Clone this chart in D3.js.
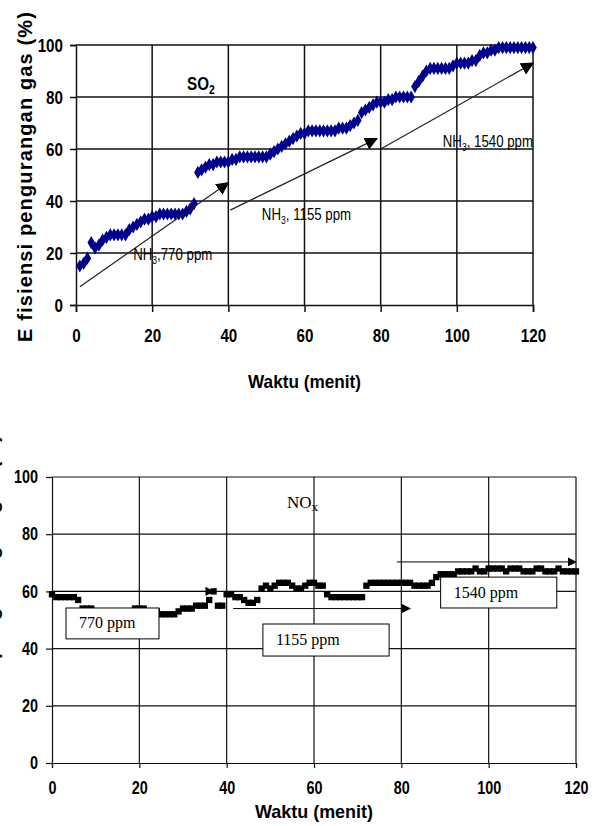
<!DOCTYPE html>
<html>
<head>
<meta charset="utf-8">
<script src="https://cdn.jsdelivr.net/npm/d3@7"></script>
<style>
  body { margin: 0; background: #fff; }
  svg { display: block; }
</style>
</head>
<body>
<div id="chart"></div>
<script>
const xTicks = [0, 20, 40, 60, 80, 100, 120];
const yTicks = [0, 20, 40, 60, 80, 100];

// SO2 reduction efficiency (%), one reading per minute, minute 1 .. 120
const so2Start = 1;
const so2Values = [
  15, 16, 18, 24, 22, 23, 25, 26, 27, 27,
  27, 27, 27, 29, 30, 31, 32, 33, 33, 34,
  34, 35, 35, 35, 35, 35, 35, 35, 36, 37,
  39, 51, 52, 53, 54, 54, 55, 55, 55, 55,
  56, 56, 57, 57, 57, 57, 57, 57, 57, 57,
  58, 59, 60, 61, 62, 63, 64, 65, 66, 66,
  67, 67, 67, 67, 67, 67, 67, 67, 68, 68,
  68, 69, 70, 71, 74, 75, 76, 77, 78, 78,
  78, 79, 79, 80, 80, 80, 80, 80, 84, 86,
  88, 90, 91, 91, 91, 91, 91, 91, 92, 93,
  93, 93, 93, 94, 94, 96, 97, 97, 98, 98,
  99, 99, 99, 99, 99, 99, 99, 99, 99, 99
];

// NOx reduction efficiency (%), one reading per minute, minute 0 .. 120
const noxStart = 0;
const noxValues = [
  59, 58, 58, 58, 58, 58, 57, 54, 54, 54,
  53, 53, 53, 53, 53, 53, 53, 53, 53, 54,
  54, 54, 53, 53, 53, 52, 52, 52, 52, 53,
  54, 54, 54, 55, 55, 55, 57, 60, 55, 55,
  59, 59, 58, 58, 57, 56, 56, 57, 61, 62,
  61, 62, 63, 63, 63, 62, 61, 61, 62, 63,
  63, 62, 62, 59, 58, 58, 58, 58, 58, 58,
  58, 58, 62, 63, 63, 63, 63, 63, 63, 63,
  63, 63, 63, 62, 62, 62, 62, 63, 65, 66,
  66, 66, 66, 67, 67, 67, 67, 68, 67, 67,
  68, 68, 68, 68, 67, 68, 68, 68, 67, 67,
  67, 68, 68, 67, 67, 67, 68, 67, 67, 67, 67
];

// NH3 dosing arrows (data coordinates: minute, %)
const so2Arrows = [
  [1, 7, 40, 47],
  [40.5, 36.5, 79, 64],
  [80, 60, 120, 93]
];
const so2Labels = [
  { t: 15, v: 17.3, dose: "770 ppm", sep: "," },
  { t: 48.8, v: 32.7, dose: " 1155 ppm", sep: "," },
  { t: 96.3, v: 60.8, dose: " 1540 ppm", sep: "," }
];

const noxArrows = [
  [0, 60, 37, 60],
  [41.5, 54, 82, 54],
  [79, 70.3, 120, 70.3]
];
const noxBoxes = [
  { t0: 3.2, t1: 24.5, v0: 54.2, v1: 43.4, text: "770 ppm" },
  { t0: 48.3, t1: 77.2, v0: 48.6, v1: 37.4, text: "1155 ppm" },
  { t0: 89, t1: 115.6, v0: 65, v1: 54.2, text: "1540 ppm" }
];

const sans = "'Liberation Sans', Arial, sans-serif";
const serif = "'Liberation Serif', 'Times New Roman', serif";

// squeeze plain text into a narrow look (no narrow face is installed)
function condense(sel, k) {
  sel.each(function () {
    const w = this.getComputedTextLength();
    d3.select(this).attr("textLength", w * k).attr("lengthAdjust", "spacingAndGlyphs");
  });
}

const svg = d3.select("#chart").append("svg")
  .attr("width", 603)
  .attr("height", 826);

const defs = svg.append("defs");
[["headBig", 13], ["headSmall", 9]].forEach(([id, s]) => {
  defs.append("marker")
    .attr("id", id)
    .attr("viewBox", "0 0 10 10")
    .attr("refX", 9).attr("refY", 5)
    .attr("markerWidth", s).attr("markerHeight", s)
    .attr("markerUnits", "userSpaceOnUse")
    .attr("orient", "auto")
    .append("path")
    .attr("d", "M0,0L10,5L0,10Z")
    .attr("fill", "#000");
});

function drawFrame(g, x, y, opt) {
  g.append("g")
    .selectAll("line")
    .data(xTicks.slice(1))
    .join("line")
    .attr("x1", d => x(d)).attr("x2", d => x(d))
    .attr("y1", y(0)).attr("y2", y(100))
    .attr("stroke", "#111").attr("stroke-width", opt.grid);

  g.append("g")
    .selectAll("line")
    .data(yTicks.slice(1))
    .join("line")
    .attr("x1", x(0)).attr("x2", x(120))
    .attr("y1", d => y(d)).attr("y2", d => y(d))
    .attr("stroke", "#111").attr("stroke-width", opt.grid);

  const xa = g.append("g")
    .attr("transform", `translate(0,${y(0)})`)
    .call(d3.axisBottom(x).tickValues(xTicks).tickSize(opt.xTick).tickPadding(opt.xPad).tickFormat(d3.format("d")));
  const ya = g.append("g")
    .attr("transform", `translate(${x(0)},0)`)
    .call(d3.axisLeft(y).tickValues(yTicks).tickSize(6).tickPadding(opt.yPad).tickFormat(d3.format("d")));

  [xa, ya].forEach(a => {
    a.select(".domain").attr("stroke", "#111").attr("stroke-width", opt.grid);
    a.selectAll(".tick line").attr("stroke", "#111").attr("stroke-width", opt.grid);
    a.selectAll(".tick text")
      .attr("fill", "#000")
      .style("font-family", sans)
      .style("font-weight", "bold")
      .style("font-size", opt.tickFont + "px")
      .call(condense, 0.8);
  });

  g.append("text")
    .attr("x", (x(0) + x(120)) / 2)
    .attr("y", opt.xTitleY)
    .attr("text-anchor", "middle")
    .attr("textLength", opt.xTitleLen)
    .attr("lengthAdjust", "spacingAndGlyphs")
    .style("font-family", sans)
    .style("font-weight", "bold")
    .style("font-size", "19px")
    .text("Waktu (menit)");

  g.append("text")
    .attr("transform", `translate(${opt.yTitleX},${opt.yTitleCy}) rotate(-90)`)
    .attr("text-anchor", "middle")
    .attr("textLength", 330)
    .attr("lengthAdjust", "spacing")
    .style("font-family", sans)
    .style("font-weight", "bold")
    .style("font-size", "20px")
    .text("E fisiensi pengurangan gas (%)");
}

// ---------- top panel: SO2 ----------
{
  const x = d3.scaleLinear().domain([0, 120]).range([76, 533]);
  const y = d3.scaleLinear().domain([0, 100]).range([305, 45]);
  const g = svg.append("g");

  drawFrame(g, x, y, {
    grid: 1.5, xTick: 7, xPad: 17, yPad: 7, tickFont: 19,
    xTitleY: 388, xTitleLen: 113, yTitleX: 32, yTitleCy: 177
  });

  g.append("g")
    .selectAll("path")
    .data(so2Values)
    .join("path")
    .attr("transform", (d, i) => `translate(${x(so2Start + i)},${y(d)})`)
    .attr("d", d3.symbol(d3.symbolDiamond, 50))
    .attr("fill", "#00008b");

  g.append("g")
    .selectAll("line")
    .data(so2Arrows)
    .join("line")
    .attr("x1", d => x(d[0])).attr("y1", d => y(d[1]))
    .attr("x2", d => x(d[2])).attr("y2", d => y(d[3]))
    .attr("stroke", "#222").attr("stroke-width", 1.2)
    .attr("marker-end", "url(#headBig)");

  const lab = g.append("g")
    .selectAll("text")
    .data(so2Labels)
    .join("text")
    .attr("transform", d => `translate(${x(d.t)},${y(d.v)}) scale(0.78,1)`)
    .style("font-family", sans)
    .style("font-size", "17px");
  lab.append("tspan").text("NH");
  lab.append("tspan").attr("dy", 4).style("font-size", "11px").text("3");
  lab.append("tspan").attr("dy", -4).text(d => d.sep + d.dose);

  const so2 = g.append("text")
    .attr("transform", "translate(187,90) scale(0.8,1)")
    .style("font-family", sans)
    .style("font-weight", "bold")
    .style("font-size", "19px");
  so2.append("tspan").text("SO");
  so2.append("tspan").attr("dy", 4).style("font-size", "13px").text("2");
}

// ---------- bottom panel: NOx ----------
{
  const x = d3.scaleLinear().domain([0, 120]).range([52, 576]);
  const y = d3.scaleLinear().domain([0, 100]).range([763, 477]);
  const g = svg.append("g");

  drawFrame(g, x, y, {
    grid: 1.2, xTick: 5, xPad: 13, yPad: 8, tickFont: 18,
    xTitleY: 818, xTitleLen: 118, yTitleX: -2, yTitleCy: 600
  });

  g.append("g")
    .selectAll("path")
    .data(noxValues)
    .join("path")
    .attr("transform", (d, i) => `translate(${x(noxStart + i)},${y(d)})`)
    .attr("d", d3.symbol(d3.symbolSquare, 40))
    .attr("fill", "#000");

  g.append("g")
    .selectAll("line")
    .data(noxArrows)
    .join("line")
    .attr("x1", d => x(d[0])).attr("y1", d => y(d[1]))
    .attr("x2", d => x(d[2])).attr("y2", d => y(d[3]))
    .attr("stroke", "#000").attr("stroke-width", 1)
    .attr("marker-end", "url(#headSmall)");

  const box = g.append("g")
    .selectAll("g")
    .data(noxBoxes)
    .join("g");
  box.append("rect")
    .attr("x", d => x(d.t0)).attr("y", d => y(d.v0))
    .attr("width", d => x(d.t1) - x(d.t0))
    .attr("height", d => y(d.v1) - y(d.v0))
    .attr("fill", "#fff").attr("stroke", "#000").attr("stroke-width", 1);
  box.append("text")
    .attr("x", d => x(d.t0) + 13)
    .attr("y", d => (y(d.v0) + y(d.v1)) / 2 + 5)
    .style("font-family", serif)
    .style("font-size", "16px")
    .text(d => d.text);

  const nox = g.append("text")
    .attr("x", 287).attr("y", 508)
    .style("font-family", serif)
    .style("font-size", "17px");
  nox.append("tspan").text("NO");
  nox.append("tspan").attr("dy", 3).style("font-size", "13px").text("x");
}
</script>
</body>
</html>
